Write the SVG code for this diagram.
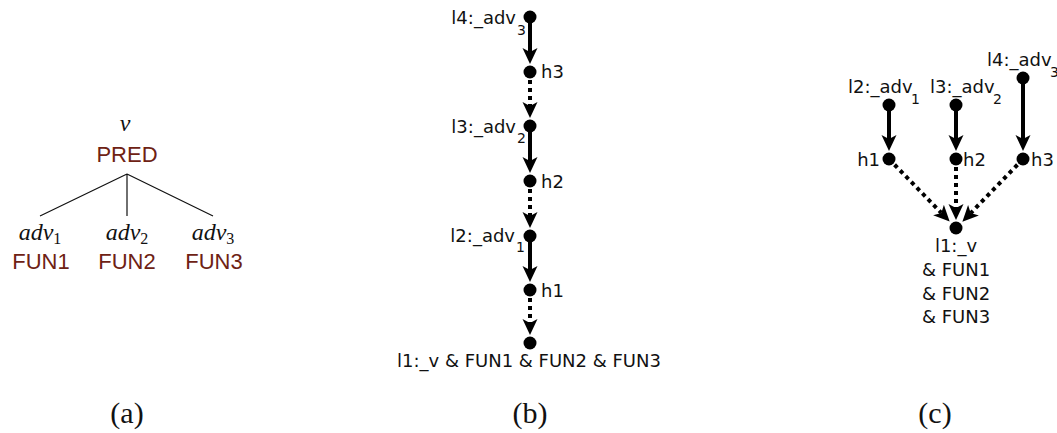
<svg xmlns="http://www.w3.org/2000/svg" width="1057" height="433" viewBox="0 0 1057 433">
<style>
.bg{fill:#ffffff}
.red{font-family:"Liberation Sans",Arial,sans-serif;font-size:22px;fill:#6e2214}
.math{font-family:"Liberation Serif","Times New Roman",serif;font-style:italic;font-size:24px;fill:#111}
.sub{font-style:normal;font-size:16px}
.cap{font-family:"Liberation Serif","Times New Roman",serif;font-size:30px;fill:#111}
.lbl{font-family:"DejaVu Sans",sans-serif;font-size:18px;fill:#111}
.lsub{font-size:14px}
.tree{stroke:#111;stroke-width:1.2;fill:none}
.dot{fill:#000}
.solid{stroke:#000;stroke-width:4;fill:none;marker-end:url(#ah)}
.dotted{stroke:#000;stroke-width:4;fill:none;stroke-dasharray:4 4;marker-end:url(#ah)}
</style>
<defs>
<marker id="ah" markerUnits="userSpaceOnUse" markerWidth="17" markerHeight="16" refX="4" refY="7.5" orient="auto" viewBox="0 0 17 15">
<path d="M0,0 L16,7.5 L0,15 L4,7.5 z" fill="#000"/>
</marker>
</defs>
<rect class="bg" x="0" y="0" width="1057" height="433"/>

<g id="panel-a">
<g id="a-v"><text class="math" x="125" y="131" text-anchor="middle">v</text></g>
<g id="a-pred"><text class="red" x="127" y="162" text-anchor="middle">PRED</text></g>
<g id="a-edges">
<path class="tree" d="M127,174 L40,216 M127,174 L127,216 M127,174 L213,216"/>
</g>
<g id="a-adv1"><text class="math" x="40" y="240" text-anchor="middle">adv<tspan class="sub" dy="4">1</tspan></text><text class="red" x="41" y="269" text-anchor="middle">FUN1</text></g>
<g id="a-adv2"><text class="math" x="127" y="240" text-anchor="middle">adv<tspan class="sub" dy="4">2</tspan></text><text class="red" x="127" y="269" text-anchor="middle">FUN2</text></g>
<g id="a-adv3"><text class="math" x="213" y="240" text-anchor="middle">adv<tspan class="sub" dy="4">3</tspan></text><text class="red" x="214" y="269" text-anchor="middle">FUN3</text></g>
</g>

<g id="connectors">
<line class="solid" x1="530" y1="17" x2="530" y2="52"/>
<line class="dotted" x1="530" y1="72" x2="530" y2="106"/>
<line class="solid" x1="530" y1="126" x2="530" y2="161"/>
<line class="dotted" x1="530" y1="181" x2="530" y2="216"/>
<line class="solid" x1="530" y1="236" x2="530" y2="270"/>
<line class="dotted" x1="530" y1="290" x2="530" y2="323"/>

<line class="solid" x1="889" y1="105" x2="889" y2="139"/>
<line class="solid" x1="956" y1="105" x2="956" y2="139"/>
<line class="solid" x1="1023" y1="78" x2="1023" y2="139"/>
<line class="dotted" x1="889" y1="159" x2="941.3" y2="212.9"/>
<line class="dotted" x1="956" y1="159" x2="956" y2="208"/>
<line class="dotted" x1="1023" y1="159" x2="970.7" y2="213.1"/>
</g>

<g id="b-l4"><circle class="dot" cx="530" cy="17" r="6.5"/><text class="lbl" x="516" y="24" text-anchor="end">l4:_adv</text><text class="lbl lsub" x="517" y="35">3</text></g>
<g id="b-h3"><circle class="dot" cx="530" cy="72" r="6.5"/><text class="lbl" x="541" y="78">h3</text></g>
<g id="b-l3"><circle class="dot" cx="530" cy="126" r="6.5"/><text class="lbl" x="516" y="133" text-anchor="end">l3:_adv</text><text class="lbl lsub" x="517" y="143">2</text></g>
<g id="b-h2"><circle class="dot" cx="530" cy="181" r="6.5"/><text class="lbl" x="541" y="188">h2</text></g>
<g id="b-l2"><circle class="dot" cx="530" cy="236" r="6.5"/><text class="lbl" x="515" y="242" text-anchor="end">l2:_adv</text><text class="lbl lsub" x="516" y="252">1</text></g>
<g id="b-h1"><circle class="dot" cx="530" cy="290" r="6.5"/><text class="lbl" x="541" y="297">h1</text></g>
<g id="b-l1"><circle class="dot" cx="530" cy="343" r="6.5"/><text class="lbl" x="529" y="367" text-anchor="middle">l1:_v &amp; FUN1 &amp; FUN2 &amp; FUN3</text></g>

<g id="c-l2"><circle class="dot" cx="889" cy="105" r="6.5"/><text class="lbl" x="848" y="93">l2:_adv</text><text class="lbl lsub" x="911" y="104">1</text></g>
<g id="c-l3"><circle class="dot" cx="956" cy="105" r="6.5"/><text class="lbl" x="930" y="93">l3:_adv</text><text class="lbl lsub" x="993" y="104">2</text></g>
<g id="c-l4"><circle class="dot" cx="1023" cy="78" r="6.5"/><text class="lbl" x="987" y="66">l4:_adv</text><text class="lbl lsub" x="1050" y="77">3</text></g>
<g id="c-h1"><circle class="dot" cx="889" cy="159" r="6.5"/><text class="lbl" x="880" y="166" text-anchor="end">h1</text></g>
<g id="c-h2"><circle class="dot" cx="956" cy="159" r="6.5"/><text class="lbl" x="963" y="166">h2</text></g>
<g id="c-h3"><circle class="dot" cx="1023" cy="159" r="6.5"/><text class="lbl" x="1031" y="166">h3</text></g>
<g id="c-l1"><circle class="dot" cx="956" cy="228" r="6.5"/>
<text class="lbl" text-anchor="middle"><tspan x="956" y="252">l1:_v</tspan><tspan x="956" y="276">&amp; FUN1</tspan><tspan x="956" y="300">&amp; FUN2</tspan><tspan x="956" y="323">&amp; FUN3</tspan></text></g>

<g id="captions">
<text class="cap" x="127" y="423" text-anchor="middle">(a)</text>
<text class="cap" x="530" y="423" text-anchor="middle">(b)</text>
<text class="cap" x="935" y="423" text-anchor="middle">(c)</text>
</g>
</svg>
